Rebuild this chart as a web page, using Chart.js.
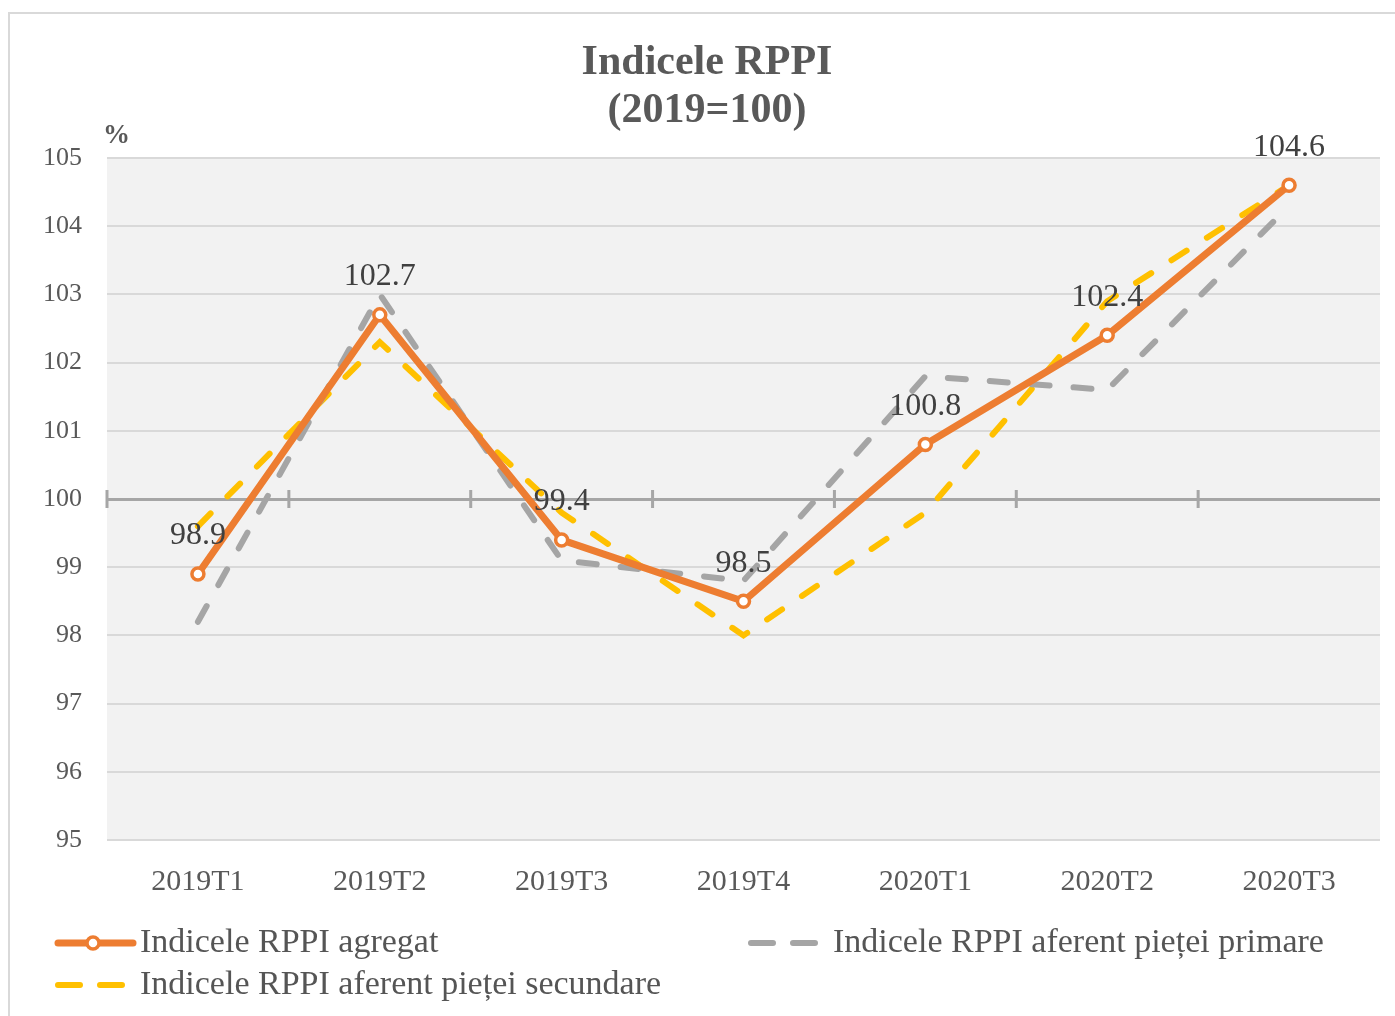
<!DOCTYPE html>
<html>
<head>
<meta charset="utf-8">
<script src="https://cdn.jsdelivr.net/npm/chart.js@4.4.1/dist/chart.umd.min.js"></script>
<style>
  body { margin: 0; background: #fff; }
  #frame { position: absolute; left: 8px; top: 12px; width: 1400px; height: 1010px;
           border-left: 2px solid #d9d9d9; border-top: 2px solid #d9d9d9; }
  #chartBox { position: absolute; left: 0; top: 0; }
</style>
</head>
<body>
<div id="frame"></div>
<div id="chartBox"><canvas id="rppiChart" width="1395" height="1016"></canvas></div>
<script>
// categorii (trimestre)
var categories = ['2019T1', '2019T2', '2019T3', '2019T4', '2020T1', '2020T2', '2020T3'];
// valorile seriilor
var agregat = [98.9, 102.7, 99.4, 98.5, 100.8, 102.4, 104.6];
var primara = [98.2, 103.0, 99.1, 98.8, 101.8, 101.6, 104.3];
var secundara = [99.6, 102.3, 99.8, 98.0, 99.8, 102.9, 104.6];
var seriesNames = ['Indicele RPPI agregat', 'Indicele RPPI aferent pieței primare', 'Indicele RPPI aferent pieței secundare'];
var titleLines = ['Indicele RPPI', '(2019=100)'];
var yMin = 95, yMax = 105, yBase = 100;

var FONT = "'Liberation Serif', serif";
var TEXT = '#595959';

// fundalul gri al zonei graficului
var bgPlugin = {
    id: 'bg',
    beforeDraw: function(chart) {
        var a = chart.chartArea, c = chart.ctx;
        c.save();
        c.fillStyle = '#f2f2f2';
        c.fillRect(a.left, a.top, a.right - a.left, a.bottom - a.top);
        c.restore();
    }
};

// titlul pe doua randuri (centrat pe tot graficul, nu doar pe layout)
var titlePlugin = {
    id: 'twoLineTitle',
    afterDraw: function(chart) {
        var c = chart.ctx;
        c.save();
        c.fillStyle = TEXT;
        c.font = 'bold 42px ' + FONT;
        c.textAlign = 'center';
        c.textBaseline = 'middle';
        titleLines.forEach(function(t, i) {
            c.fillText(t, 707, 63 + i * 48);
        });
        c.restore();
    }
};

// axa de la 100 cu liniutele dintre categorii + eticheta %
var baseAxisPlugin = {
    id: 'baseAxis',
    beforeDatasetsDraw: function(chart) {
        var a = chart.chartArea, c = chart.ctx;
        var y = chart.scales.y.getPixelForValue(yBase);
        var step = (a.right - a.left) / categories.length;
        c.save();
        c.strokeStyle = '#a6a6a6';
        c.lineWidth = 3;
        for (var i = 0; i < categories.length; i++) {
            var x = a.left + i * step;
            c.beginPath();
            c.moveTo(x, y - 9);
            c.lineTo(x, y + 9);
            c.stroke();
        }
        c.fillStyle = TEXT;
        c.font = 'bold 27px ' + FONT;
        c.textAlign = 'left';
        c.textBaseline = 'middle';
        c.fillText('%', a.left - 4, a.top - 22);
        c.restore();
    }
};

// etichetele de valori pentru seria agregata
var labelPlugin = {
    id: 'valueLabels',
    afterDatasetsDraw: function(chart) {
        var c = chart.ctx;
        var meta = chart.getDatasetMeta(0);
        c.save();
        c.fillStyle = '#404040';
        c.font = '32px ' + FONT;
        c.textAlign = 'center';
        c.textBaseline = 'middle';
        meta.data.forEach(function(pt, i) {
            c.fillText(agregat[i].toFixed(1), pt.x, pt.y - 38);
        });
        c.restore();
    }
};

// legenda desenata manual (doua coloane)
var legendPlugin = {
    id: 'customLegend',
    afterDraw: function(chart) {
        var c = chart.ctx;
        var items = [
            { ds: 0, x: 55, y: 943 },
            { ds: 1, x: 748, y: 943 },
            { ds: 2, x: 55, y: 985 }
        ];
        c.save();
        items.forEach(function(it) {
            var ds = chart.data.datasets[it.ds];
            c.strokeStyle = ds.borderColor;
            c.lineWidth = ds.borderWidth;
            c.lineCap = 'round';
            c.setLineDash(ds.borderDash ? [22, 20] : []);
            c.beginPath();
            c.moveTo(it.x + 3, it.y);
            c.lineTo(it.x + 78, it.y);
            c.stroke();
            c.setLineDash([]);
            if (it.ds === 0) {
                c.beginPath();
                c.arc(it.x + 38, it.y, 6, 0, Math.PI * 2);
                c.fillStyle = '#fff';
                c.fill();
                c.lineWidth = 3.5;
                c.stroke();
            }
            c.fillStyle = '#555';
            c.font = '34px ' + FONT;
            c.textAlign = 'left';
            c.textBaseline = 'middle';
            c.fillText(ds.label, it.x + 85, it.y);
        });
        c.restore();
    }
};

var ctx = document.getElementById('rppiChart').getContext('2d');
var rppiChart = new Chart(ctx, {
    type: 'line',
    data: {
        labels: categories,
        datasets: [{
            label: seriesNames[0],
            data: agregat,
            borderColor: '#ed7d31',
            borderWidth: 7,
            pointRadius: 6,
            pointBorderWidth: 3.5,
            pointBackgroundColor: '#fff',
            pointBorderColor: '#ed7d31',
            tension: 0,
            fill: false
        }, {
            label: seriesNames[1],
            data: primara,
            borderColor: '#a5a5a5',
            borderWidth: 6,
            borderDash: [18, 24],
            borderCapStyle: 'round',
            pointRadius: 0,
            tension: 0,
            fill: false
        }, {
            label: seriesNames[2],
            data: secundara,
            borderColor: '#ffc000',
            borderWidth: 6,
            borderDash: [18, 24],
            borderCapStyle: 'round',
            pointRadius: 0,
            tension: 0,
            fill: false
        }]
    },
    options: {
        responsive: false,
        animation: false,
        layout: { padding: { left: 0, right: 15, top: 158, bottom: 0 } },
        scales: {
            x: {
                offset: true,
                grid: { display: false },
                border: { display: false },
                ticks: { color: TEXT, font: { family: FONT, size: 30 }, padding: 16 },
                afterFit: function(scale) { scale.height = 176; }
            },
            y: {
                min: yMin,
                max: yMax,
                ticks: { stepSize: 1, color: TEXT, font: { family: FONT, size: 26 }, padding: 25 },
                grid: {
                    drawTicks: false,
                    color: function(c) { return c.tick && c.tick.value === yBase ? '#a6a6a6' : '#d9d9d9'; },
                    lineWidth: function(c) { return c.tick && c.tick.value === yBase ? 3 : 2; }
                },
                border: { display: false },
                afterFit: function(scale) { scale.width = 107; }
            }
        },
        plugins: {
            legend: { display: false },
            tooltip: { enabled: false },
            title: { display: false }
        }
    },
    plugins: [bgPlugin, titlePlugin, baseAxisPlugin, labelPlugin, legendPlugin]
});
</script>
</body>
</html>
